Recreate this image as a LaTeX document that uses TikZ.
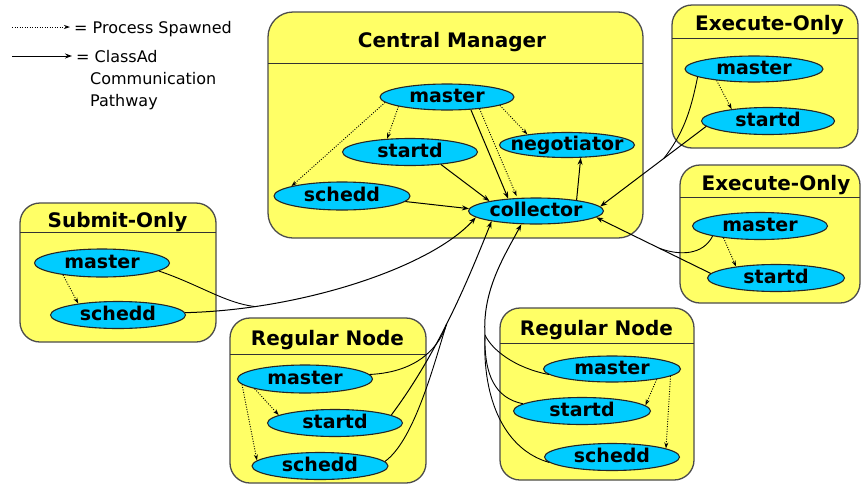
\documentclass[tikz,border=0pt]{standalone}
\usepackage{fontspec}
\setmainfont{DejaVu Sans}
\usetikzlibrary{shapes.geometric,arrows.meta,calc}
\definecolor{boxyel}{RGB}{255,255,102}
\definecolor{ellcyan}{RGB}{0,204,255}
\begin{document}
\begin{tikzpicture}[x=1pt,y=-1pt,
  box/.style={draw=black!70, line width=1.3pt, fill=boxyel, rounded corners=20pt, inner sep=0},
  sepl/.style={draw=black!80, line width=1pt},
  ttl/.style={font=\fontsize{20}{24}\selectfont\bfseries, inner sep=0, anchor=base},
  lbl/.style={font=\fontsize{19}{22}\selectfont\bfseries, inner sep=0, text height=14pt, text depth=4pt},
  ell/.style={ellipse, draw=black!85, line width=1.1pt, fill=ellcyan, inner sep=0, label={[lbl]center:#1}},
  legt/.style={font=\fontsize{16}{19}\selectfont, inner sep=0, anchor=base west},
  cl/.style={line width=1pt, black, -{Stealth[length=7pt,width=5pt]}},
  ln/.style={line width=0.9pt, black},
  sp/.style={line width=0.9pt, black, dash pattern=on 1pt off 1.5pt, -{Stealth[length=6pt,width=4pt]}},
]
\useasboundingbox (0,0) rectangle (862,485);

% ---------- boxes ----------
\node[box, rounded corners=25pt, minimum width=375pt, minimum height=226pt] (cmbox) at (455.5,125) {};
\draw[sepl] (268,63) -- (643,63);
\node[ttl] (cmt) at (452,47) {Central Manager};

\node[box, minimum width=186pt, minimum height=143pt] (e1box) at (765,76.5) {};
\draw[sepl] (672,38) -- (858,38);
\node[ttl] (e1t) at (769.5,30) {Execute-Only};

\node[box, minimum width=180pt, minimum height=138pt] (e2box) at (770,234) {};
\draw[sepl] (680,197) -- (860,197);
\node[ttl] (e2t) at (776,190) {Execute-Only};

\node[box, minimum width=196pt, minimum height=139pt] (sbox) at (118,272.5) {};
\draw[sepl] (20,232) -- (216,232);
\node[ttl] (st) at (117.5,227) {Submit-Only};

\node[box, minimum width=196pt, minimum height=165pt] (rlbox) at (328,400.5) {};
\draw[sepl] (230,354) -- (426,354);
\node[ttl] (rlt) at (327.5,345) {Regular Node};

\node[box, minimum width=194pt, minimum height=172pt] (rrbox) at (597,394) {};
\draw[sepl] (500,343) -- (694,343);
\node[ttl] (rrt) at (596.5,335) {Regular Node};

% ---------- ellipses ----------
\node[ell=master, minimum width=134pt, minimum height=26pt] (cmm) at (447,97) {};
\node[ell=startd, minimum width=135pt, minimum height=27pt] (cms) at (410,152) {};
\node[ell=negotiator, minimum width=135pt, minimum height=25pt] (neg) at (567,145) {};
\node[ell=schedd, minimum width=136pt, minimum height=28pt] (cmsch) at (342,196) {};
\node[ell=collector, minimum width=135pt, minimum height=26pt] (coll) at (536,211) {};

\node[ell=master, minimum width=138pt, minimum height=26pt] (e1m) at (754,69) {};
\node[ell=startd, minimum width=133pt, minimum height=27pt] (e1s) at (768,121) {};

\node[ell=master, minimum width=135pt, minimum height=27pt] (e2m) at (760,226) {};
\node[ell=startd, minimum width=137pt, minimum height=27pt] (e2s) at (776,278) {};

\node[ell=master, minimum width=135pt, minimum height=28pt] (sm) at (102,263) {};
\node[ell=schedd, minimum width=135pt, minimum height=27pt] (ss) at (118,315) {};

\node[ell=master, minimum width=135pt, minimum height=28pt] (rlm) at (305,379) {};
\node[ell=startd, minimum width=135pt, minimum height=27pt] (rls) at (335,423) {};
\node[ell=schedd, minimum width=136pt, minimum height=27pt] (rlsc) at (320,466) {};

\node[ell=master, minimum width=137pt, minimum height=26pt] (rrm) at (612,369) {};
\node[ell=startd, minimum width=137pt, minimum height=27pt] (rrs) at (582,411) {};
\node[ell=schedd, minimum width=135pt, minimum height=27pt] (rrsc) at (612,457) {};

% ---------- central manager connectors ----------
\draw[sp] (cmm.191) -- (cms.150);
\draw[sp] (cmm.185) -- (cmsch.169);
\draw[sp] (cmm.351) -- (neg.165);
\draw[sp, shorten >=2pt] (cmm.340) -- (coll.145);
\draw[cl] (cmm.332) -- (coll.156);
\draw[cl] (cms.338) -- (coll.168);
\draw[cl] (cmsch.355) -- (coll.178);
\draw[cl] (coll.15) -- (neg.317);

% ---------- execute-only (top) ----------
\draw[sp] (e1m.197) -- (e1s.162);
\draw[cl] (e1s.185) -- (coll.4) coordinate[pos=0.4] (jt);
\draw[ln] (e1m.188) .. controls (690,115) and (682,135) .. (jt);

% ---------- execute-only (bottom) ----------
\draw[sp] (e2m.198) -- (e2s.164);
\draw[cl] (e2s.176) -- (coll.354) coordinate[pos=0.45] (jb);
\draw[ln] (e2m.192) .. controls (703,255) and (680,256) .. (jb);

% ---------- submit-only ----------
\draw[sp] (sm.197) -- (ss.164);
\draw[cl] (ss.2) .. controls (300,310) and (430,268) .. (coll.186) coordinate[pos=0.2] (js);
\draw[ln] (sm.352) .. controls (200,285) and (225,303) .. (js);

% ---------- regular node (left) ----------
\draw[sp] (rlm.191) -- (rls.172);
\draw[sp] (rlm.185) -- (rlsc.175);
\draw[cl] (rls.8) .. controls (440,350) and (470,275) .. (coll.193) coordinate[pos=0.45] (jl);
\draw[ln] (rlm.4) .. controls (420,372) and (440,345) .. (jl);
\draw[ln] (rlsc.4) .. controls (415,440) and (435,360) .. (jl);

% ---------- regular node (right) ----------
\draw[sp] (rrm.347) -- (rrs.5);
\draw[sp] (rrm.353) -- (rrsc.9);
\coordinate (jr) at (485,335);
\draw[cl] (jr) .. controls (482,290) and (505,255) .. (coll.222);
\draw[ln] (rrm.185) .. controls (515,368) and (492,350) .. (jr);
\draw[ln] (rrs.173) .. controls (495,398) and (484,375) .. (jr);
\draw[ln] (rrsc.185) .. controls (505,450) and (482,400) .. (jr);

% ---------- legend ----------
\coordinate (l1a) at (12,27);
\coordinate (l1b) at (70,27);
\draw[sp] (l1a) -- (l1b);
\node[legt] (lt1) at (74,33) {= Process Spawned};
\coordinate (l2a) at (12,56);
\coordinate (l2b) at (72,56);
\draw[cl] (l2a) -- (l2b);
\node[legt] (lt2) at (76,62) {= ClassAd};
\node[legt] (lt3) at (90,84) {Communication};
\node[legt] (lt4) at (90,106) {Pathway};
\end{tikzpicture}
\end{document}
